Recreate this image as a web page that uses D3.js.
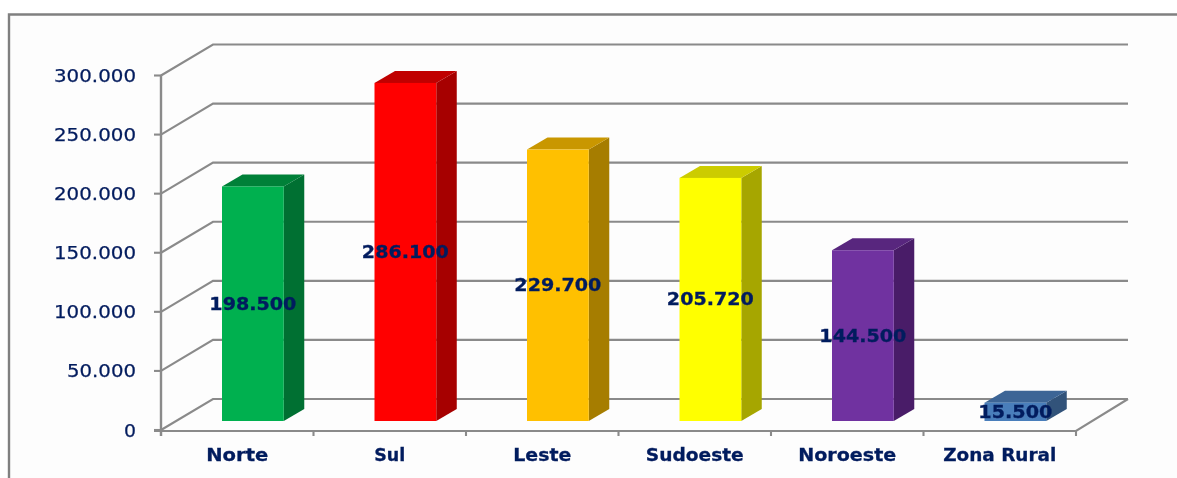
<!DOCTYPE html>
<html><head><meta charset="utf-8">
<script src="https://cdn.jsdelivr.net/npm/d3@7"></script>
<style>html,body{margin:0;padding:0;background:#fff;overflow:hidden}svg{display:block}</style>
</head><body><div id="c"></div>
<script>
const categories = ["Norte","Sul","Leste","Sudoeste","Noroeste","Zona Rural"];
const values = [198500,286100,229700,205720,144500,15500];
const valueLabels = ["198.500","286.100","229.700","205.720","144.500","15.500"];
const frontColors = ["#00b050","#ff0000","#ffc000","#ffff00","#7030a0","#4a7ebb"];
const topColors = ["#008038","#c00000","#c99700","#cccc00","#58267e","#3c6596"];
const sideColors = ["#006f32","#a60000","#a67d00","#a6a600","#491f68","#31527a"];
const yTicks = [0,50000,100000,150000,200000,250000,300000];
const yTickLabels = ["0","50.000","100.000","150.000","200.000","250.000","300.000"];

const W=1177,H=478;
const svg=d3.select("#c").append("svg").attr("width",W).attr("height",H);
const defs=svg.append("defs");
defs.append("filter").attr("id","soft").attr("x",0).attr("y",0).attr("width",1).attr("height",1).append("feGaussianBlur").attr("stdDeviation",0.5);
const x=d3.scaleBand().domain(categories).range([161,1076]);
const y=d3.scaleLinear().domain([0,300000]).range([430,75.5]);
const wallDx=52,wallDy=-31,barDx=20.5,barDy=-12,baseY=421,barOffset=0.4,barW=0.405;
const ink="#051c5e",grid="#8a8a8a";
svg.append("rect").attr("width",W).attr("height",H).attr("fill","#fff");
const g=svg.append("g").attr("filter","url(#soft)");
g.append("rect").attr("width",W).attr("height",H).attr("fill","#fff");
g.append("rect").attr("x",9).attr("y",14).attr("width",W).attr("height",H).attr("fill","#fdfdfd");
g.append("path").attr("d",`M9 ${H+2}V14.5H${W+2}`).attr("fill","none").attr("stroke","#808080").attr("stroke-width",2.4);

// walls and grid
yTicks.forEach(t=>{
  g.append("path").attr("d",`M161 ${y(t)}L${161+wallDx} ${y(t)+wallDy}H${1076+wallDx}`)
   .attr("fill","none").attr("stroke",grid).attr("stroke-width",2.1);
  g.append("line").attr("x1",154).attr("x2",161).attr("y1",y(t)).attr("y2",y(t)).attr("stroke",grid).attr("stroke-width",2.1);
});
g.append("line").attr("x1",161).attr("x2",161).attr("y1",y(300000)).attr("y2",y(0)+6).attr("stroke",grid).attr("stroke-width",2.4);
g.append("path").attr("d",`M154 ${y(0)+1}H1076L${1076+wallDx} ${y(0)+wallDy}`).attr("fill","none").attr("stroke",grid).attr("stroke-width",2.1);
[...categories.map(c=>x(c)),1076].forEach(v=>{
  g.append("line").attr("x1",v).attr("x2",v).attr("y1",y(0)+1).attr("y2",y(0)+6).attr("stroke",grid).attr("stroke-width",2.1);
});

// bars
const bars=g.selectAll(".bar").data(categories).join("g").attr("class","bar");
const bw=x.bandwidth()*barW, bx=c=>x(c)+x.bandwidth()*barOffset;
const h=(i)=>y(0)-y(values[i]);
bars.append("path").attr("fill",(d,i)=>sideColors[i]).attr("d",(c,i)=>{
  const r=bx(c)+bw,t=baseY-h(i);
  return `M${r} ${t}l${barDx} ${barDy}V${baseY+barDy}l${-barDx} ${-barDy}Z`;});
bars.append("path").attr("fill",(d,i)=>topColors[i]).attr("d",(c,i)=>{
  const t=baseY-h(i);
  return `M${bx(c)} ${t}l${barDx} ${barDy}h${bw}l${-barDx} ${-barDy}Z`;});
bars.append("rect").attr("fill",(d,i)=>frontColors[i]).attr("x",bx).attr("width",bw)
  .attr("y",(c,i)=>baseY-h(i)).attr("height",(c,i)=>h(i));

function label(px,py,str,size,weight,len,sw){
  const t=g.append("text").attr("x",px).attr("y",py).attr("text-anchor","middle")
   .attr("dominant-baseline","central").attr("font-family","'DejaVu Sans',sans-serif")
   .attr("font-size",size).attr("font-weight",weight).attr("fill",ink).text(str);
  if(sw) t.attr("stroke",ink).attr("stroke-width",sw);
  if(len) t.attr("textLength",len).attr("lengthAdjust","spacingAndGlyphs");
  return t;
}
yTicks.forEach((t,i)=>{
  const s=yTickLabels[i];
  const len=s.length===1?12:(s.length===6?69:82);
  label(136-len/2,y(t),s,18,"normal",len,0.25);
});
const catLen=[62,31,58,98,98,113];
categories.forEach((c,i)=>{ label(x(c)+x.bandwidth()/2,455,c,17,"bold",catLen[i],0.3); });
categories.forEach((c,i)=>{
  label(bx(c)+bw/2,baseY-h(i)/2,valueLabels[i],17,"bold",valueLabels[i].length===7?87:74,0.3);
});
</script></body></html>
